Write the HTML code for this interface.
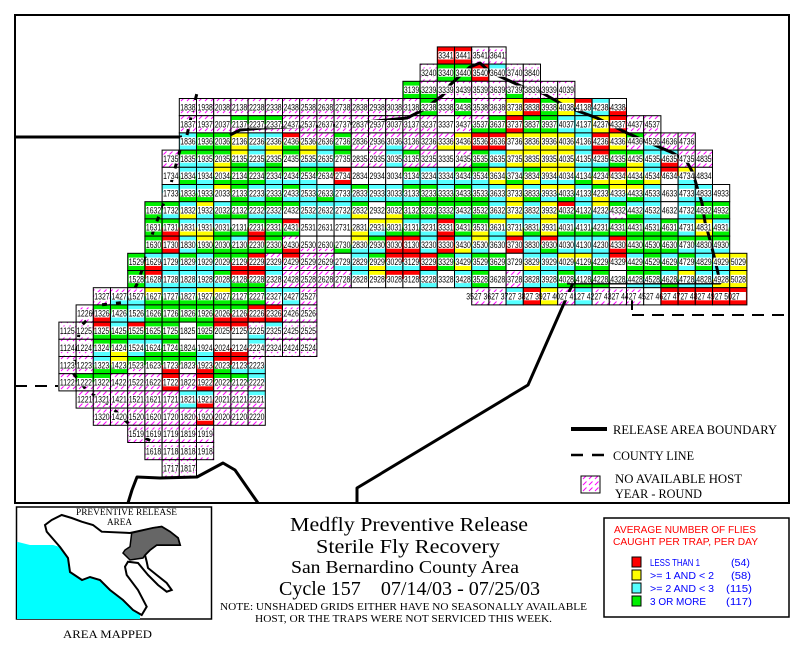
<!DOCTYPE html>
<html><head><meta charset="utf-8"><style>
html,body{margin:0;padding:0;background:#fff;width:804px;height:653px;overflow:hidden}
svg{position:absolute;left:0;top:0}
.lb{font-family:"Liberation Sans",sans-serif;font-size:9px;fill:#000}
.sf{font-family:"Liberation Serif",serif;fill:#000}
.ss{font-family:"Liberation Sans",sans-serif}
</style></head><body>
<svg id="s" width="804" height="653" viewBox="0 0 804 653" xmlns="http://www.w3.org/2000/svg">
<defs>
<pattern id="hatch" patternUnits="userSpaceOnUse" width="6" height="6">
<rect width="6" height="6" fill="#fff"/>
<line x1="1" y1="5" x2="4.5" y2="1.5" stroke="#ff00ff" stroke-width="1"/>
</pattern>
</defs>
<rect x="0" y="0" width="804" height="653" fill="#fff"/>
<g id="fills"></g>
<g id="lines" fill="none" stroke="#000" stroke-width="3" stroke-linejoin="round">
<polyline points="15,137 182,137"/>
<polyline points="187,135 192,113 197,93" stroke-dasharray="6 6"/>
<polyline points="230,135 240,130 263,128 327,126 365,122 407,118 423,110 443,95 450,85 463,73 470,67 480,63 490,72 523,87 537,90 567,107 597,118 627,133 650,143 673,153 687,162 693,173 697,187 702,203 705,222 710,240 715,260 718,273 720,283 567,283"/>
<polyline points="573,283 528,385 357,488 357,503"/>
<polyline points="187,138 180,150 170,187 160,213 153,232 147,252 142,270 138,282 128,302 100,305 90,317 80,327 73,373 88,392 107,403 127,422 143,437 153,442 160,460" stroke-dasharray="5 9"/>
<polyline points="128,503 132,490 137,477 160,478 197,477 223,463 235,470 258,503"/>
<polyline points="15,386 58,386" stroke-width="2" stroke-dasharray="12 8"/>
<polyline points="632,315 789,315" stroke-width="2" stroke-dasharray="12 8"/>
<polyline points="632,297 632,310" stroke-width="2"/>
</g>
<g id="boxes"></g>
<g class="lb" id="labels">
<text x="438.3" y="58.7" textLength="66.9" lengthAdjust="spacingAndGlyphs">3341 3441 3541 3641</text>
<text x="421.1" y="75.9" textLength="118.5" lengthAdjust="spacingAndGlyphs">3240 3340 3440 3540 3640 3740 3840</text>
<text x="403.9" y="93.1" textLength="170.1" lengthAdjust="spacingAndGlyphs">3139 3239 3339 3439 3539 3639 3739 3839 3939 4039</text>
<text x="180.3" y="110.3" textLength="445.3" lengthAdjust="spacingAndGlyphs">1838 1938 2038 2138 2238 2338 2438 2538 2638 2738 2838 2938 3038 3138 3238 3338 3438 3538 3638 3738 3838 3938 4038 4138 4238 4338</text>
<text x="180.3" y="127.5" textLength="479.7" lengthAdjust="spacingAndGlyphs">1837 1937 2037 2137 2237 2337 2437 2537 2637 2737 2837 2937 3037 3137 3237 3337 3437 3537 3637 3737 3837 3937 4037 4137 4237 4337 4437 4537</text>
<text x="180.3" y="144.7" textLength="514.1" lengthAdjust="spacingAndGlyphs">1836 1936 2036 2136 2236 2336 2436 2536 2636 2736 2836 2936 3036 3136 3236 3336 3436 3536 3636 3736 3836 3936 4036 4136 4236 4336 4436 4536 4636 4736</text>
<text x="163.1" y="161.9" textLength="548.5" lengthAdjust="spacingAndGlyphs">1735 1835 1935 2035 2135 2235 2335 2435 2535 2635 2735 2835 2935 3035 3135 3235 3335 3435 3535 3635 3735 3835 3935 4035 4135 4235 4335 4435 4535 4635 4735 4835</text>
<text x="163.1" y="179.1" textLength="548.5" lengthAdjust="spacingAndGlyphs">1734 1834 1934 2034 2134 2234 2334 2434 2534 2634 2734 2834 2934 3034 3134 3234 3334 3434 3534 3634 3734 3834 3934 4034 4134 4234 4334 4434 4534 4634 4734 4834</text>
<text x="163.1" y="196.3" textLength="565.7" lengthAdjust="spacingAndGlyphs">1733 1833 1933 2033 2133 2233 2333 2433 2533 2633 2733 2833 2933 3033 3133 3233 3333 3433 3533 3633 3733 3833 3933 4033 4133 4233 4333 4433 4533 4633 4733 4833 4933</text>
<text x="145.9" y="213.5" textLength="582.9" lengthAdjust="spacingAndGlyphs">1632 1732 1832 1932 2032 2132 2232 2332 2432 2532 2632 2732 2832 2932 3032 3132 3232 3332 3432 3532 3632 3732 3832 3932 4032 4132 4232 4332 4432 4532 4632 4732 4832 4932</text>
<text x="145.9" y="230.7" textLength="582.9" lengthAdjust="spacingAndGlyphs">1631 1731 1831 1931 2031 2131 2231 2331 2431 2531 2631 2731 2831 2931 3031 3131 3231 3331 3431 3531 3631 3731 3831 3931 4031 4131 4231 4331 4431 4531 4631 4731 4831 4931</text>
<text x="145.9" y="247.9" textLength="582.9" lengthAdjust="spacingAndGlyphs">1630 1730 1830 1930 2030 2130 2230 2330 2430 2530 2630 2730 2830 2930 3030 3130 3230 3330 3430 3530 3630 3730 3830 3930 4030 4130 4230 4330 4430 4530 4630 4730 4830 4930</text>
<text x="128.7" y="265.1" textLength="617.3" lengthAdjust="spacingAndGlyphs">1529 1629 1729 1829 1929 2029 2129 2229 2329 2429 2529 2629 2729 2829 2929 3029 3129 3229 3329 3429 3529 3629 3729 3829 3929 4029 4129 4229 4329 4429 4529 4629 4729 4829 4929 5029</text>
<text x="128.7" y="282.3" textLength="617.3" lengthAdjust="spacingAndGlyphs">1528 1628 1728 1828 1928 2028 2128 2228 2328 2428 2528 2628 2728 2828 2928 3028 3128 3228 3328 3428 3528 3628 3728 3828 3928 4028 4128 4228 4328 4428 4528 4628 4728 4828 4928 5028</text>
<text x="94.3" y="299.5" textLength="221.7" lengthAdjust="spacingAndGlyphs">1327 1427 1527 1627 1727 1827 1927 2027 2127 2227 2327 2427 2527</text>
<text x="466.3" y="299.5" textLength="273.3" lengthAdjust="spacingAndGlyphs">3527 3627 3727 3827 3927 4027 4127 4227 4327 4427 4527 4627 4727 4827 4927 5027</text>
<text x="77.1" y="316.7" textLength="238.9" lengthAdjust="spacingAndGlyphs">1226 1326 1426 1526 1626 1726 1826 1926 2026 2126 2226 2326 2426 2526</text>
<text x="59.9" y="333.9" textLength="256.1" lengthAdjust="spacingAndGlyphs">1125 1225 1325 1425 1525 1625 1725 1825 1925 2025 2125 2225 2325 2425 2525</text>
<text x="59.9" y="351.1" textLength="256.1" lengthAdjust="spacingAndGlyphs">1124 1224 1324 1424 1524 1624 1724 1824 1924 2024 2124 2224 2324 2424 2524</text>
<text x="59.9" y="368.3" textLength="204.5" lengthAdjust="spacingAndGlyphs">1123 1223 1323 1423 1523 1623 1723 1823 1923 2023 2123 2223</text>
<text x="59.9" y="385.5" textLength="204.5" lengthAdjust="spacingAndGlyphs">1122 1222 1322 1422 1522 1622 1722 1822 1922 2022 2122 2222</text>
<text x="77.1" y="402.7" textLength="187.3" lengthAdjust="spacingAndGlyphs">1221 1321 1421 1521 1621 1721 1821 1921 2021 2121 2221</text>
<text x="94.3" y="419.9" textLength="170.1" lengthAdjust="spacingAndGlyphs">1320 1420 1520 1620 1720 1820 1920 2020 2120 2220</text>
<text x="128.7" y="437.1" textLength="84.1" lengthAdjust="spacingAndGlyphs">1519 1619 1719 1819 1919</text>
<text x="145.9" y="454.3" textLength="66.9" lengthAdjust="spacingAndGlyphs">1618 1718 1818 1918</text>
<text x="163.1" y="471.5" textLength="32.5" lengthAdjust="spacingAndGlyphs">1717 1817</text>
</g>

<!-- map frame -->
<rect x="15" y="15" width="774" height="488" fill="none" stroke="#000" stroke-width="2"/>
<!-- map legend -->
<line x1="571" y1="429" x2="607" y2="429" stroke="#000" stroke-width="4"/>
<line x1="571" y1="455" x2="583" y2="455" stroke="#000" stroke-width="2.5"/>
<line x1="592" y1="455" x2="604" y2="455" stroke="#000" stroke-width="2.5"/>
<rect x="581" y="476" width="19" height="17" fill="url(#hatch)" stroke="#000" stroke-width="1"/>
<g class="sf" font-size="13">
<text x="613" y="434" textLength="164" lengthAdjust="spacingAndGlyphs">RELEASE AREA BOUNDARY</text>
<text x="613" y="460" textLength="81" lengthAdjust="spacingAndGlyphs">COUNTY LINE</text>
<text x="615" y="483" textLength="127" lengthAdjust="spacingAndGlyphs">NO AVAILABLE HOST</text>
<text x="615" y="498" textLength="87" lengthAdjust="spacingAndGlyphs">YEAR - ROUND</text>
</g>

<!-- inset -->
<rect x="16.5" y="507" width="195" height="112" fill="#fff" stroke="#000" stroke-width="1.5"/>
<polygon points="17,541.7 30,545 53,545 60,547 68,558 70,572 82,580 90,577 100,580 110,590 123,600 133,610 140,615 140,619 17,619" fill="#00ffff"/>
<polygon points="60,547 46.7,531.7 45,525 51.7,520 61.7,515 71.7,518 81.7,521.7 93,525 101.7,531.7 130,533 153,528 161.7,526.7 170,531.7 178,538 180,545 156.7,545 150,550 145,555 146.7,561.7 148,568 156.7,575 166.7,583 171.7,590 166.7,591.7 158,585 148,575 138,563 128,561.7 125,566.7 126.7,575 138,590 146.7,606.7 141.7,615 133,610 123,600 110,590 100,580 90,577 82,580 70,572 68,558" fill="#fff" stroke="#000" stroke-width="2"/>
<polygon points="131.7,533 153,528 161.7,526.7 170,531.7 178,538 180,545 156.7,545 150,550 145,555 143,558 130,560 123,553 125,550 130,546.7" fill="#666" stroke="#000" stroke-width="1.5"/>
<text class="sf" x="76" y="515" font-size="9" textLength="101" lengthAdjust="spacingAndGlyphs">PREVENTIVE RELEASE</text>
<text class="sf" x="107" y="525" font-size="9" textLength="25" lengthAdjust="spacingAndGlyphs">AREA</text>
<text class="sf" x="63" y="638" font-size="12" textLength="89" lengthAdjust="spacingAndGlyphs">AREA MAPPED</text>

<!-- title -->
<g class="sf">
<text x="290" y="531" font-size="20" textLength="238" lengthAdjust="spacingAndGlyphs">Medfly Preventive Release</text>
<text x="316" y="553" font-size="20" textLength="184" lengthAdjust="spacingAndGlyphs">Sterile Fly Recovery</text>
<text x="291" y="573" font-size="18" textLength="228" lengthAdjust="spacingAndGlyphs">San Bernardino County Area</text>
<text x="279" y="595" font-size="20" textLength="261" lengthAdjust="spacingAndGlyphs" xml:space="preserve">Cycle 157    07/14/03 - 07/25/03</text>
<text x="220" y="610" font-size="10.5" textLength="367" lengthAdjust="spacingAndGlyphs">NOTE: UNSHADED GRIDS EITHER HAVE NO SEASONALLY AVAILABLE</text>
<text x="255" y="622" font-size="10.5" textLength="297" lengthAdjust="spacingAndGlyphs">HOST, OR THE TRAPS WERE NOT SERVICED THIS WEEK.</text>
</g>

<!-- color legend -->
<rect x="604" y="518" width="185" height="99" fill="#fff" stroke="#000" stroke-width="1.5"/>
<g class="ss" font-size="10">
<text x="614" y="533" fill="#ff0000" textLength="142" lengthAdjust="spacingAndGlyphs">AVERAGE NUMBER OF FLIES</text>
<text x="613" y="545" fill="#ff0000" textLength="145" lengthAdjust="spacingAndGlyphs">CAUGHT PER TRAP, PER DAY</text>
<rect x="632" y="557" width="9" height="10" fill="#ff0000" stroke="#000"/>
<rect x="632" y="570" width="9" height="10" fill="#ffff00" stroke="#000"/>
<rect x="632" y="583" width="9" height="10" fill="#55ffff" stroke="#000"/>
<rect x="632" y="596" width="9" height="10" fill="#00f000" stroke="#000"/>
<g fill="#0000ff">
<text x="650" y="566" textLength="50" lengthAdjust="spacingAndGlyphs">LESS THAN 1</text>
<text x="731" y="566" textLength="19" lengthAdjust="spacingAndGlyphs">(54)</text>
<text x="650" y="579" textLength="64" lengthAdjust="spacingAndGlyphs">&gt;= 1 AND &lt; 2</text>
<text x="731" y="579" textLength="20" lengthAdjust="spacingAndGlyphs">(58)</text>
<text x="650" y="592" textLength="64" lengthAdjust="spacingAndGlyphs">&gt;= 2 AND &lt; 3</text>
<text x="726" y="592" textLength="26" lengthAdjust="spacingAndGlyphs">(115)</text>
<text x="650" y="605" textLength="56" lengthAdjust="spacingAndGlyphs">3 OR MORE</text>
<text x="726" y="605" textLength="26" lengthAdjust="spacingAndGlyphs">(117)</text>
</g>
</g>
</svg>
<script>
(function(){
var rows=[
[41,33,"RR RR HH HH"],
[40,32,"HH GG GG RR CW HH HH"],
[39,31,"GG HG HH HH HH HH HG HH HH HH"],
[38,18,"HH HH HH HH HH HH HH HH HH HH HH HH HH HH GG HH GG HH HH YY RR GG YY RC CC WR"],
[37,18,"HH HH WH GH GH GH HH HH HH HH HH HH HH HH HH WW HH HG GG RR GG GG CC CC YY RR HH HH"],
[36,18,"CC GG GG YY CC CY RG HY HC GG HH HH HC HH HH HY YY RR RR YW YY YY YY CC RR YY GH HC HH HH"],
[35,17,"HH GC GC GY YG CC YG GW YC CC GW WH HH CC GH HH WW HH GG CC YY YY YY YY CC RC GG GY CC CR HH HH"],
[34,17,"WW CG CC YG GG GG GC GC GC GW RR WW WW WW GC CC CC GC GC YY CG GY YC YC CG GY RY YG CY RW YC WW"],
[33,17,"CW CG CG YW GG CC CG GC CC CG CC GC CC CC GC GG CG GG CG CC YY CG YC YG CC GY YC YG CC WW CC CC WW"],
[32,16,"GG GC CY YC CG GG GC GC GW CC CC CC GY WW GY GG GG GG GC GG CC YY CC YY RG CG YC GH CG CC WW CC GG GG"],
[31,16,"GG GR CY CY CG WG GR GG RG WW WW WW WY YC YG CG CC RR GG GY YC CY CG YY CG CG CG GG GG CG GG CC YY CG"],
[30,16,"GG RR CC YG GG CG RG GG HR WH WH WG YC GC RR RR CC RR CY YC CW RR CC RG CC CC CC RR GG GG GG GC GC GC"],
[29,15,"GG CR CC GC CC GC GR RR HC RH HH HH WC CC GY RC RC RR GG CY GC GG WW CY CC YC YG CG RW CG GG CG GC CG YC YY"],
[28,15,"GG RC CC CC CC GC RG RG CH HH HH HH HH CW YW RW RW CC WW CC GG WW HH CC CC GG CG GG WW GC GC CG YC CC CY YY"],
[27,13,"HH HC HC YG CG CG YG YG GG GG CH CC HH"],
[27,35,"HH HH CC RR YY HH CC HH HH HH WW RR RR RR RR RR"],
[26,12,"HH GR GC CC GG GG GG GG GR GR RR RR HH HH"],
[25,11,"HH HH RG CG RG GG GG WW GG RW RW HC CH HH HH"],
[24,11,"HH HH GC GY CC CG GG WG WC WR WR CH HH HH HH"],
[23,11,"HH HH CG YG GH GW GR GW CR RG RC HC"],
[22,11,"HH GH GH HH HH HH RR HH RR GH GH CH"],
[21,12,"HH HH HH HH HH HH CC CR HH HH CH"],
[20,13,"HH HH HH HH HH HH HR HH HH HH"],
[19,15,"HH HH HH HH HH"],
[18,16,"HH HH HH HH"],
[17,17,"HH HH"]];
var col={R:"#ff0000",Y:"#ffff00",C:"#55ffff",G:"#00f000",W:"#ffffff",H:"url(#hatch)"};
var NS="http://www.w3.org/2000/svg";
var F=document.getElementById("fills"),B=document.getElementById("boxes");
function r(g,x,y,w,h,f,s){var e=document.createElementNS(NS,"rect");e.setAttribute("x",x);e.setAttribute("y",y);e.setAttribute("width",w);e.setAttribute("height",h);e.setAttribute("fill",f);if(s){e.setAttribute("stroke",s);e.setAttribute("stroke-width","1");}g.appendChild(e);}
var W=17.2;
rows.forEach(function(d){
 var codes=d[2].split(" ");
 var y=752.1-17.2*d[0];
 codes.forEach(function(cd,i){
  var c=d[1]+i, x=17.2*c-130.3;
  r(F,x,y,W,W/2+0.1,col[cd[0]]);
  r(F,x,y+W/2,W,W/2,col[cd[1]]);
  r(F,x,y,W,W,"none","#000");
  r(B,x+1,y+4.3,W-2,8.3,"#fff");
 });
});
})();
</script>
</body></html>
